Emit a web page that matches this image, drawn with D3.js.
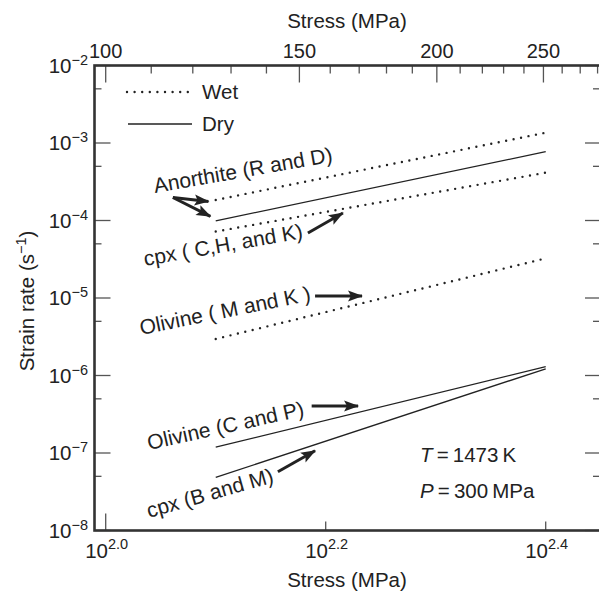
<!DOCTYPE html>
<html><head><meta charset="utf-8">
<script src="https://cdn.jsdelivr.net/npm/d3@7"></script>
<style>
html,body{margin:0;padding:0;background:#fff;}
svg{display:block;font-family:"Liberation Sans", Arial, Helvetica, sans-serif;}
</style></head><body>
<svg id="chart" width="599" height="594"></svg>
<script>
// Flow-law curves: strain rate (s^-1) at both ends of the stress interval (MPa)
const stressEnds = [125.9, 251.2];
const wetNames = ["Anorthite (R and D)", "cpx (C,H, and K)", "Olivine (M and K)"];
const wetRates = [[1.84e-4, 1.36e-3], [7.2e-5, 4.14e-4], [2.96e-6, 3.25e-5]];
const dryNames = ["Anorthite (R and D)", "Olivine (C and P)", "cpx (B and M)"];
const dryRates = [[9.9e-5, 7.73e-4], [1.19e-7, 1.30e-6], [4.85e-8, 1.22e-6]];

// Tick values
const topTicks = d3.range(100, 290, 10);
const topLabels = [100, 150, 200, 250];
const rateDecades = [-2, -3, -4, -5, -6, -7, -8];
const stressExponents = ["2.0", "2.2", "2.4"];

// Annotation labels, anchored in data units (stress, strain rate)
const labels = [
  {text: "Anorthite (R and D)", at: [110.9, 2.26e-4], angle: -10},
  {text: "cpx ( C,H, and K)",   at: [108.6, 2.59e-5], angle: -10},
  {text: "Olivine ( M and K )", at: [107.7, 3.33e-6], angle: -11.5},
  {text: "Olivine (C and P)",   at: [109.5, 1.09e-7], angle: -12.5},
  {text: "cpx (B and M)",       at: [109.5, 1.45e-8], angle: -16}
];
// Pointer arrows: [stress0, rate0, stress1, rate1]
const arrows = [
  [115.1, 1.98e-4, 124.0, 1.76e-4],
  [115.1, 1.98e-4, 124.5, 1.13e-4],
  [152.7, 6.9e-5, 164.3, 1.25e-4],
  [155.0, 1.06e-5, 171.0, 1.06e-5],
  [153.9, 4.04e-7, 169.6, 4.04e-7],
  [143.4, 5.74e-8, 155.0, 1.07e-7]
];

const svg = d3.select("#chart");
const L = 94.5, R = 601, T = 65.5, B = 530.5;

const x = d3.scaleLog().domain([Math.pow(10, 1.98982), Math.pow(10, 2.45027)]).range([L, R]);
const y = d3.scaleLog().domain([1e-8, 1e-2]).range([B, T]);

const ink = "#222";
const tickCol = "#555";

// arrowhead
svg.append("defs").append("marker")
  .attr("id", "head").attr("markerUnits", "userSpaceOnUse")
  .attr("viewBox", "-1 -7 18 14").attr("refX", 14).attr("refY", 0)
  .attr("markerWidth", 18).attr("markerHeight", 14).attr("orient", "auto")
  .append("path").attr("d", "M0,-5.5 L15,0 L0,5.5 L3,0 Z").attr("fill", ink);

// ---- ticks ----
const ticks = svg.append("g").attr("stroke", tickCol).attr("stroke-width", 1.3);
topTicks.forEach(v => {
  const len = topLabels.includes(v) ? 17 : 8;
  ticks.append("line").attr("x1", x(v)).attr("x2", x(v)).attr("y1", T).attr("y2", T + len);
});
stressExponents.forEach((e, i) => {
  const v = Math.pow(10, +e);
  const len = i === 0 ? 17 : 9;
  ticks.append("line").attr("x1", x(v)).attr("x2", x(v)).attr("y1", B).attr("y2", B - len);
});
rateDecades.forEach(e => {
  const v = Math.pow(10, e);
  ticks.append("line").attr("x1", L).attr("x2", L + 16).attr("y1", y(v)).attr("y2", y(v));
  ticks.append("line").attr("x1", R).attr("x2", R - 16).attr("y1", y(v)).attr("y2", y(v));
  if (e > -8) {
    const m = 5 * Math.pow(10, e - 1);
    ticks.append("line").attr("x1", L).attr("x2", L + 7).attr("y1", y(m)).attr("y2", y(m));
    ticks.append("line").attr("x1", R).attr("x2", R - 8).attr("y1", y(m)).attr("y2", y(m));
  }
});

// ---- frame ----
svg.append("rect").attr("x", L).attr("y", T).attr("width", R - L).attr("height", B - T)
  .attr("fill", "none").attr("stroke", "#333").attr("stroke-width", 2.6);

// ---- tick labels ----
const txt = svg.append("g").attr("fill", ink);
topLabels.forEach(v => {
  txt.append("text").attr("x", x(v)).attr("y", 58).attr("text-anchor", "middle")
    .attr("font-size", 20).text(v);
});
rateDecades.forEach(e => {
  const t = txt.append("text").attr("x", 88).attr("y", y(Math.pow(10, e)) + 7)
    .attr("text-anchor", "end").attr("font-size", 20.5);
  t.append("tspan").text("10");
  t.append("tspan").attr("dy", -8).attr("font-size", 14.5).text("\u2212" + (-e));
});
stressExponents.forEach(e => {
  const t = txt.append("text").attr("x", x(Math.pow(10, +e)) + 1).attr("y", 558)
    .attr("text-anchor", "middle").attr("font-size", 20.5);
  t.append("tspan").text("10");
  t.append("tspan").attr("dy", -9).attr("font-size", 14.5).text(e);
});

// ---- axis titles ----
txt.append("text").attr("x", 347).attr("y", 28).attr("text-anchor", "middle")
  .attr("font-size", 20.5).text("Stress (MPa)");
txt.append("text").attr("x", 347).attr("y", 587).attr("text-anchor", "middle")
  .attr("font-size", 20.5).text("Stress (MPa)");
const yt = txt.append("text").attr("transform", `translate(34,${(T + B) / 2 + 3}) rotate(-90)`)
  .attr("text-anchor", "middle").attr("font-size", 20.5);
yt.append("tspan").text("Strain rate (s");
yt.append("tspan").attr("dy", -8).attr("font-size", 14.5).text("\u22121");
yt.append("tspan").attr("dy", 8).text(")");

// ---- curves ----
const line = d3.line().x(d => x(d[0])).y(d => y(d[1]));
const curves = svg.append("g").attr("fill", "none");
wetRates.forEach(r => {
  curves.append("path").attr("d", line(stressEnds.map((s, i) => [s, r[i]])))
    .attr("stroke", ink).attr("stroke-width", 2.4).attr("stroke-linecap", "round")
    .attr("stroke-dasharray", "0,7.6");
});
dryRates.forEach(r => {
  curves.append("path").attr("d", line(stressEnds.map((s, i) => [s, r[i]])))
    .attr("stroke", ink).attr("stroke-width", 1.3);
});

// ---- legend ----
const lg = svg.append("g");
lg.append("line").attr("x1", 127).attr("x2", 188).attr("y1", 92).attr("y2", 92)
  .attr("stroke", ink).attr("stroke-width", 2.4).attr("stroke-linecap", "round")
  .attr("stroke-dasharray", "0,7.6");
lg.append("text").attr("x", 202).attr("y", 99).attr("font-size", 20.5).attr("fill", ink).text("Wet");
lg.append("line").attr("x1", 128).attr("x2", 192).attr("y1", 124).attr("y2", 124)
  .attr("stroke", ink).attr("stroke-width", 1.3);
lg.append("text").attr("x", 202).attr("y", 131).attr("font-size", 20.5).attr("fill", ink).text("Dry");

// ---- annotations ----
labels.forEach(d => {
  txt.append("text")
    .attr("transform", `translate(${x(d.at[0])},${y(d.at[1])}) rotate(${d.angle})`)
    .attr("font-size", 21).text(d.text);
});
svg.append("g").selectAll("line").data(arrows).join("line")
  .attr("x1", d => x(d[0])).attr("y1", d => y(d[1]))
  .attr("x2", d => x(d[2])).attr("y2", d => y(d[3]))
  .attr("stroke", ink).attr("stroke-width", 3).attr("marker-end", "url(#head)");

// ---- conditions ----
const c1 = txt.append("text").attr("x", x(193.1)).attr("y", y(7.73e-8)).attr("font-size", 20.5);
c1.append("tspan").attr("font-style", "italic").text("T");
c1.append("tspan").text("\u2009=\u20091473\u2009K");
const c2 = txt.append("text").attr("x", x(193.1)).attr("y", y(2.63e-8)).attr("font-size", 20.5);
c2.append("tspan").attr("font-style", "italic").text("P");
c2.append("tspan").text("\u2009=\u2009300\u2009MPa");
</script>
</body></html>
